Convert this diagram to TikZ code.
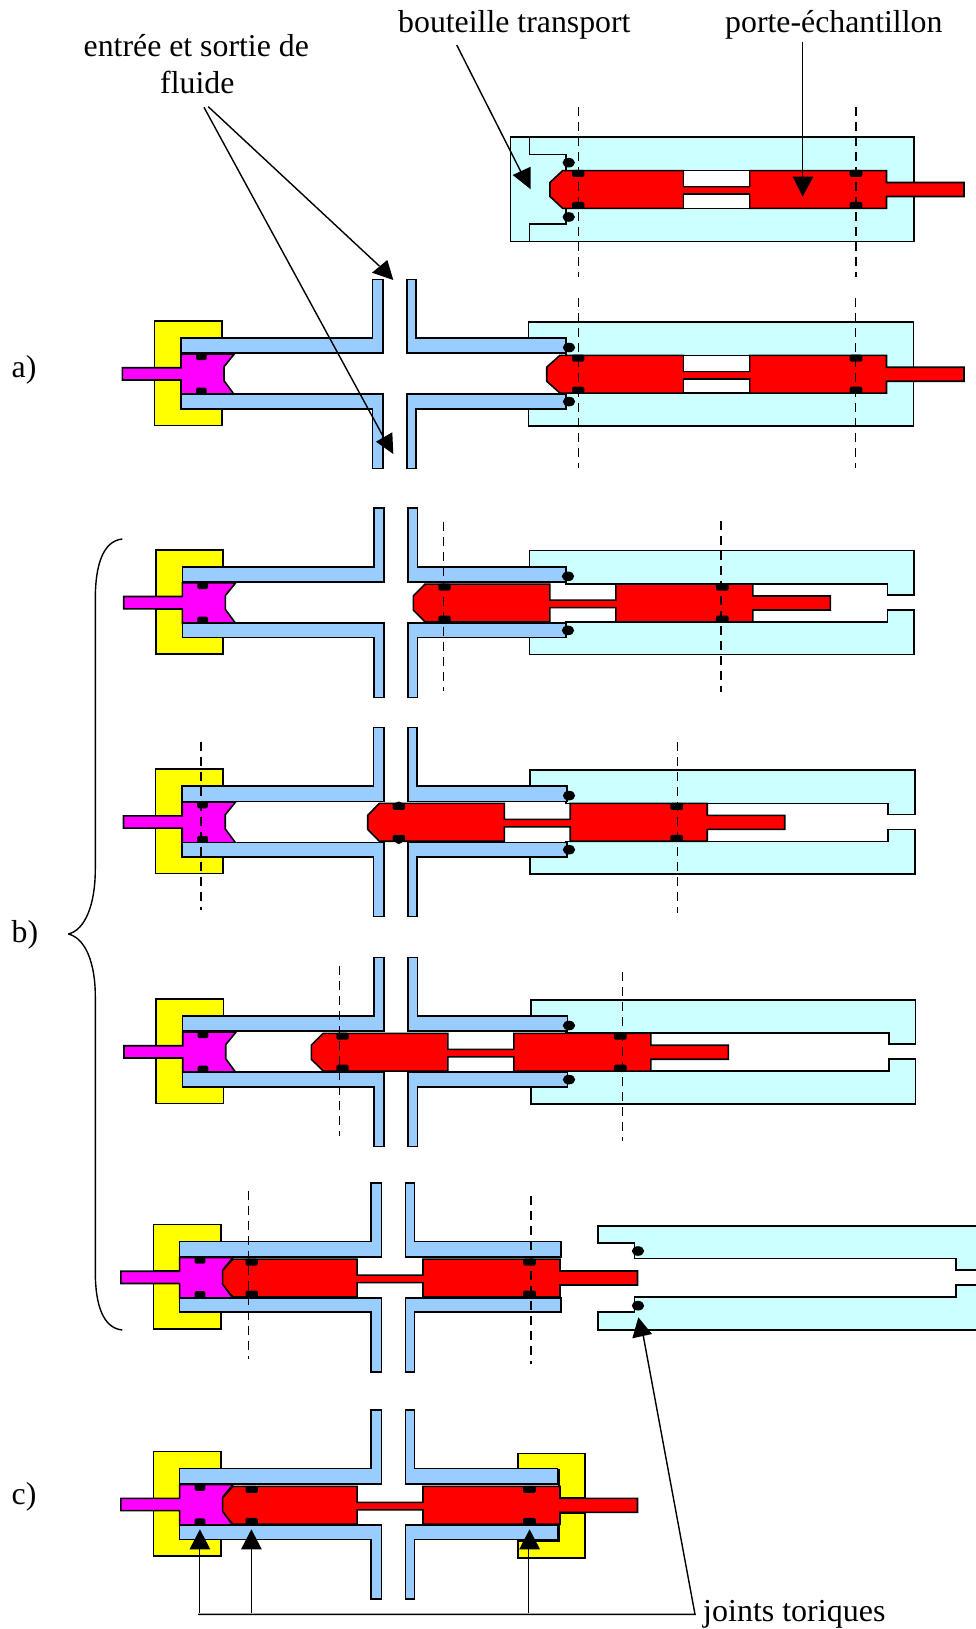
\documentclass[tikz,border=0pt]{standalone}
\usepackage{fontspec}
\setmainfont{Liberation Serif}
\definecolor{tubeblue}{HTML}{99CCFF}
\definecolor{flaskcyan}{HTML}{CCFFFF}
\definecolor{yokeyellow}{HTML}{FFFF00}
\definecolor{plugpink}{HTML}{FF00FF}
\definecolor{pistonred}{HTML}{FF0000}
\tikzset{
  part/.style={draw=black,line width=1.6pt,line join=miter},
  tubepart/.style={part,fill=tubeblue},
  flaskpart/.style={part,fill=flaskcyan},
  yokepart/.style={part,fill=yokeyellow},
  plugpart/.style={part,fill=plugpink},
  pistonpart/.style={part,fill=pistonred},
  windowpart/.style={part,fill=white},
  sealpart/.style={fill=black,rounded corners=1.5pt},
  axisline/.style={draw=black,line width=1.5pt,dash pattern=on 9pt off 6pt},
  leader/.style={draw=black,line width=1.4pt},
  head/.style={fill=black},
  lab/.style={inner sep=0pt,anchor=base west},
}
% tubes, yoke and plug of one assembly: #1 = x shift, #2 = y of the axis, #3 = right end of the tube
\newcommand{\yokes}[2]{%
  \begin{scope}[shift={(#1,#2)}]
    \draw[yokepart] (154.3,-52.2) -- (221.7,-52.2) -- (221.7,-35) -- (181,-35) -- (181,-5.5) -- (154.3,-5.5) -- cycle;
    \draw[yokepart] (154.3,52.1) -- (221.7,52.1) -- (221.7,35) -- (181,35) -- (181,6.8) -- (154.3,6.8) -- cycle;
  \end{scope}}
\newcommand{\plugpiece}[2]{%
  \begin{scope}[shift={(#1,#2)}]
    \draw[plugpart] (181,-19.2) -- (234.3,-19.2) -- (224,-6.5) -- (224,7.5) -- (234.3,21.5) -- (181,21.5) -- (181,6.8) -- (122.3,6.8) -- (122.3,-5.5) -- (181,-5.5) -- cycle;
    \fill[sealpart] (196,-20) rectangle (206.7,-13);
    \fill[sealpart] (196,14.5) rectangle (206.7,21.5);
  \end{scope}}
\newcommand{\tubes}[3]{%
  \begin{scope}[shift={(#1,#2)}]
    \draw[tubepart] (181,-35.3) -- (372.5,-35.3) -- (372.5,-93.8) -- (382.7,-93.8) -- (382.7,-20) -- (181,-20) -- cycle;
    \draw[tubepart] (181,21) -- (382.7,21) -- (382.7,95.3) -- (372.5,95.3) -- (372.5,35.5) -- (181,35.5) -- cycle;
    \draw[tubepart] (406.7,-93.8) -- (416,-93.8) -- (416,-35.3) -- (#3,-35.3) -- (#3,-20) -- (406.7,-20) -- cycle;
    \draw[tubepart] (406.7,21) -- (#3,21) -- (#3,35.5) -- (416,35.5) -- (416,95.3) -- (406.7,95.3) -- cycle;
  \end{scope}}
% piston: #1 = reference x, #2 = y of its axis, #3 = nose tip, #4 = end of chamfer
\newcommand{\pistonbody}[4]{%
  \begin{scope}[shift={(#1,#2)}]
    \draw[pistonpart] ({#3-#1},-7) -- ({#4-#1},-18.9) -- (136.6,-18.9) -- (136.6,-2.9) -- (202.5,-2.9) -- (202.5,-18.9) -- (339.5,-18.9) -- (339.5,-7) -- (417,-7) -- (417,7) -- (339.5,7) -- (339.5,18.9) -- (202.5,18.9) -- (202.5,4.6) -- (136.6,4.6) -- (136.6,18.9) -- ({#4-#1},18.9) -- ({#3-#1},7) -- cycle;
  \end{scope}}
\newcommand{\windows}[2]{%
  \begin{scope}[shift={(#1,#2)}]
    \draw[windowpart] (136.6,-18.9) rectangle (202.5,-2.9);
    \draw[windowpart] (136.6,4.6) rectangle (202.5,18.9);
  \end{scope}}
\newcommand{\pistonseals}[2]{%
  \begin{scope}[shift={(#1,#2)}]
    \fill[sealpart] (25,-19.5) rectangle (37.3,-12.5);
    \fill[sealpart] (25,12.5) rectangle (37.3,19.5);
    \fill[sealpart] (302.6,-19.5) rectangle (315.3,-12.5);
    \fill[sealpart] (302.6,12.5) rectangle (315.3,19.5);
  \end{scope}}
% open flask: #1 = x shift, #2 = axis
\newcommand{\openflask}[2]{%
  \begin{scope}[shift={(0,#2)}]
    \draw[flaskpart] (529.3+#1,-35.3) -- (529.3+#1,-51.5) -- (914+#1,-51.5) -- (914+#1,-7) -- (887.3+#1,-7) -- (887.3+#1,-18) -- (566,-18) -- (566,-35.3) -- cycle;
    \draw[flaskpart] (529.3+#1,35.5) -- (529.3+#1,52.5) -- (914+#1,52.5) -- (914+#1,8) -- (887.3+#1,8) -- (887.3+#1,20) -- (566,20) -- (566,35.5) -- cycle;
  \end{scope}}
\newcommand{\rings}[2]{%
  \fill[black] (#1+3,#2-25.7) ellipse (6.2pt and 4.8pt);
  \fill[black] (#1+3,#2+28.4) ellipse (6.2pt and 4.8pt);}
\begin{document}
\begin{tikzpicture}[x=1pt,y=-1pt]
\useasboundingbox (0,0) rectangle (976,1629);

% ---------- top: transport bottle ----------
\draw[flaskpart] (510.3,137.3) rectangle (913.7,241.7);
\draw[part] (529.3,137.3) -- (529.3,154.7) -- (566,154.7) -- (566,170);
\draw[part] (529.3,241.7) -- (529.3,224) -- (566,224) -- (566,208.3);
\fill[black] (568.7,162.7) ellipse (6.2pt and 4.8pt);
\fill[black] (568.7,217) ellipse (6.2pt and 4.8pt);
\pistonbody{547}{189.5}{550}{562.7}
\windows{547}{189.5}
\pistonseals{547}{189.5}

% ---------- a) ----------
\draw[flaskpart] (528.3,339.3) -- (528.3,321.7) -- (913.3,321.7) -- (913.3,425.7) -- (528.3,425.7) -- (528.3,409.3) -- (566,409.3) -- (566,339.3) -- cycle;
\yokes{0}{373.2}
\pistonbody{547}{374.2}{546.7}{560}
\windows{547}{374.2}
\plugpiece{0}{373.2}
\pistonseals{547}{374.2}
\tubes{0}{373.2}{566}
\rings{566}{373.2}

% ---------- b1 ----------
\openflask{0}{602}
\yokes{1.4}{602}
\pistonbody{413.3}{603}{413.3}{425}
\plugpiece{1.4}{602}
\pistonseals{413.3}{603}
\tubes{1.4}{602}{564.6}
\rings{565}{602}

% ---------- b2 ----------
\openflask{0.7}{821.3}
\yokes{1.2}{821.3}
\pistonbody{367.7}{822.3}{367.7}{379.3}
\plugpiece{1.2}{821.3}
\pistonseals{367.7}{822.3}
\tubes{1}{821.3}{566}
\rings{566}{821.3}
\fill[black] (398.7,805.5) circle (4pt);
\fill[black] (398.7,840) circle (4pt);

% ---------- b3 ----------
\openflask{1.5}{1051.2}
\yokes{1.7}{1051.2}
\pistonbody{311.3}{1052.2}{311.3}{323.3}
\plugpiece{1.7}{1051.2}
\pistonseals{311.3}{1052.2}
\tubes{1.3}{1051.2}{566}
\rings{566}{1051.2}

% ---------- b4 ----------
\begin{scope}
  \clip (0,0) rectangle (976,1629);
  \draw[flaskpart] (990,-51+1276.7) -- (597.7,-51+1276.7) -- (597.7,-34+1276.7) -- (634.3,-34+1276.7) -- (634.3,-18.4+1276.7) -- (956,-18.4+1276.7) -- (956,-6.7+1276.7) -- (990,-6.7+1276.7);
  \draw[flaskpart] (990,53.3+1276.7) -- (597.7,53.3+1276.7) -- (597.7,35+1276.7) -- (634.3,35+1276.7) -- (634.3,20+1276.7) -- (956,20+1276.7) -- (956,8.3+1276.7) -- (990,8.3+1276.7);
\end{scope}
\fill[black] (638,1251) ellipse (6.2pt and 4.8pt);
\fill[black] (638,1305.7) ellipse (6.2pt and 4.8pt);
\yokes{-0.7}{1276.7}
\pistonbody{220.5}{1278}{222}{233}
\plugpiece{-1.4}{1276.7}
\pistonseals{220.5}{1278}
\tubes{-1.4}{1276.7}{562.5}

% ---------- c) ----------
\yokes{-0.7}{1503.8}
\draw[yokepart] (517.9,1453.3) -- (585,1453.3) -- (585,1498) -- (558.9,1498) -- (558.9,1469.3) -- (517.9,1469.3) -- cycle;
\draw[yokepart] (517.9,1557.7) -- (585,1557.7) -- (585,1513) -- (558.9,1513) -- (558.9,1541) -- (517.9,1541) -- cycle;
\pistonbody{220.5}{1505.3}{222}{233}
\plugpiece{-1.4}{1503.8}
\pistonseals{220.5}{1505.3}
\tubes{-1.4}{1503.8}{558.9}

% ---------- axes ----------
\foreach \ax/\ya/\yb in {578.3/107/276.7, 856/107/276.7, 578.3/298.3/467.7, 855.7/298.3/467.7,
    443.3/521.7/690.7, 721/521/692, 201/741.7/910, 677.7/742/912.6,
    339.3/966/1135.7, 622.6/972/1141, 248.6/1190.7/1359.3, 531/1196/1364.3}
  \draw[axisline] (\ax,\ya) -- (\ax,\yb);

% ---------- brace ----------
\draw[leader] (122.3,539) .. controls (103,541) and (95.3,565) .. (95.3,599) -- (95.3,869) .. controls (95.3,905) and (85,930) .. (68.3,934);
\draw[leader] (68.3,934) .. controls (85,938) and (95.3,962) .. (95.3,996.4) -- (95.3,1271.7) .. controls (95.3,1305) and (103,1328) .. (122.3,1330);

% ---------- labels ----------
\node[lab,font=\fontsize{31.8}{38}\selectfont] (lbottle) at (398,32.6) {bouteille transport};
\node[lab,font=\fontsize{31.8}{38}\selectfont] (lholder) at (725,32.6) {porte-échantillon};
\node[lab,font=\fontsize{31.8}{38}\selectfont] (lfluid1) at (83.5,56.7) {entrée et sortie de};
\node[lab,font=\fontsize{31.8}{37}\selectfont] (lfluid2) at (160,94) {fluide};
\node[lab,font=\fontsize{32}{38}\selectfont] (ljoints) at (703,1621.7) {joints toriques};
\node[lab,font=\fontsize{31.8}{37}\selectfont] (la) at (11.5,377) {a)};
\node[lab,font=\fontsize{31.8}{37}\selectfont] (lb) at (11.5,942) {b)};
\node[lab,font=\fontsize{31.8}{37}\selectfont] (lc) at (11.5,1504) {c)};

% ---------- leaders ----------
\coordinate (bottleS) at (456.7,45);
\coordinate (bottleE) at (521,172);
\draw[leader] (bottleS) -- (bottleE);
\fill[head] (512.7,175) -- (530.7,166.7) -- (530.7,189.3) -- cycle;
\coordinate (holderS) at (802.3,41.6);
\coordinate (holderE) at (802.3,178);
\draw[leader] (holderS) -- (holderE);
\fill[head] (802.6,196.7) -- (792.7,176.7) -- (813.3,176.7) -- cycle;
\coordinate (fluidA) at (208.3,106.7);
\coordinate (fluidAE) at (379.3,266);
\draw[leader] (fluidA) -- (fluidAE);
\fill[head] (393.3,280) -- (372,272.7) -- (387.3,260) -- cycle;
\coordinate (fluidB) at (204,107.3);
\coordinate (fluidBE) at (383.3,436.7);
\draw[leader] (fluidB) -- (fluidBE);
\fill[head] (393.3,454) -- (376,441.7) -- (392.3,432.3) -- cycle;
\coordinate (jc) at (695,1614.3);
\coordinate (jl) at (198,1614.3);
\coordinate (jt) at (643.3,1336);
\draw[leader] (jt) -- (jc) -- (jl);
\fill[head] (638.3,1317.3) -- (632.3,1338.3) -- (652,1334) -- cycle;
\coordinate (j1) at (199.6,1613.3);
\coordinate (j1e) at (199.6,1545);
\coordinate (j2) at (251.4,1613.3);
\coordinate (j2e) at (251.4,1545);
\coordinate (j3) at (528.6,1613.3);
\coordinate (j3e) at (528.6,1545);
\draw[leader] (j1) -- (j1e);
\draw[leader] (j2) -- (j2e);
\draw[leader] (j3) -- (j3e);
\fill[head] (199.9,1529.3) -- (189.5,1549.3) -- (210.3,1549.3) -- cycle;
\fill[head] (251.4,1529.3) -- (241,1549.3) -- (261.8,1549.3) -- cycle;
\fill[head] (529.6,1529.3) -- (519.2,1549.3) -- (540,1549.3) -- cycle;
\end{tikzpicture}
\end{document}
